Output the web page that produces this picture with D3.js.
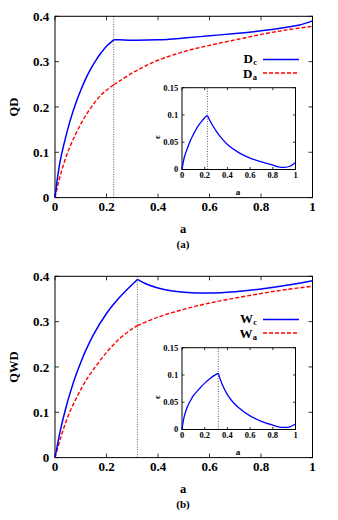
<!DOCTYPE html>
<html>
<head>
<meta charset="utf-8">
<script src="https://cdn.jsdelivr.net/npm/d3@7"></script>
<style>
  html, body { margin: 0; padding: 0; background: #fff; }
  svg { display: block; }
  text { font-family: "Liberation Serif", "DejaVu Serif", serif; font-weight: bold; fill: #000; }
</style>
</head>
<body>
<svg id="chart" width="338" height="520"></svg>
<script>
// ---- data ----
// panel (a): quantum discord
const aDc   = [0, 0.01, 0.02, 0.04, 0.06, 0.08, 0.1, 0.12, 0.14, 0.16, 0.18, 0.2, 0.228, 0.25, 0.3, 0.4, 0.5, 0.6, 0.7, 0.8, 0.9, 0.95, 1];
const valDc = [0, 0.045, 0.08, 0.13, 0.172, 0.207, 0.237, 0.263, 0.285, 0.304, 0.32, 0.334, 0.348, 0.348, 0.347, 0.348, 0.352, 0.357, 0.362, 0.368, 0.376, 0.381, 0.39];
const aDa   = [0, 0.01, 0.02, 0.04, 0.06, 0.08, 0.1, 0.12, 0.14, 0.16, 0.18, 0.2, 0.228, 0.25, 0.3, 0.35, 0.4, 0.5, 0.6, 0.7, 0.8, 0.9, 1];
const valDa = [0, 0.025, 0.048, 0.085, 0.115, 0.14, 0.162, 0.182, 0.199, 0.214, 0.227, 0.237, 0.249, 0.257, 0.275, 0.29, 0.303, 0.322, 0.336, 0.348, 0.36, 0.37, 0.378];
const aEpsA   = [0, 0.02, 0.04, 0.06, 0.08, 0.1, 0.12, 0.14, 0.16, 0.18, 0.2, 0.224, 0.25, 0.3, 0.35, 0.4, 0.5, 0.6, 0.7, 0.8, 0.85, 0.9, 0.95, 1];
const valEpsA = [0, 0.022, 0.035, 0.046, 0.056, 0.064, 0.072, 0.079, 0.085, 0.09, 0.095, 0.099, 0.088, 0.071, 0.057, 0.046, 0.031, 0.021, 0.014, 0.008, 0.005, 0.004, 0.006, 0.013];
const kinkA = 0.228;

// panel (b): quantum work deficit
const aWc   = [0, 0.02, 0.04, 0.06, 0.08, 0.1, 0.12, 0.15, 0.2, 0.25, 0.3, 0.32, 0.35, 0.4, 0.45, 0.5, 0.6, 0.7, 0.8, 0.9, 1];
const valWc = [0, 0.058, 0.105, 0.145, 0.18, 0.21, 0.237, 0.272, 0.318, 0.353, 0.382, 0.393, 0.384, 0.374, 0.368, 0.365, 0.363, 0.366, 0.372, 0.38, 0.39];
const aWa   = [0, 0.02, 0.04, 0.06, 0.08, 0.1, 0.12, 0.15, 0.2, 0.25, 0.3, 0.32, 0.4, 0.5, 0.6, 0.7, 0.8, 0.9, 1];
const valWa = [0, 0.04, 0.075, 0.104, 0.128, 0.15, 0.17, 0.195, 0.232, 0.262, 0.284, 0.291, 0.31, 0.327, 0.341, 0.352, 0.362, 0.371, 0.378];
const aEpsB   = [0, 0.02, 0.05, 0.08, 0.1, 0.15, 0.2, 0.25, 0.3, 0.32, 0.35, 0.4, 0.45, 0.5, 0.6, 0.7, 0.8, 0.85, 0.9, 0.95, 1];
const valEpsB = [0, 0.024, 0.043, 0.055, 0.062, 0.074, 0.085, 0.094, 0.101, 0.103, 0.085, 0.064, 0.05, 0.04, 0.025, 0.015, 0.008, 0.005, 0.004, 0.005, 0.01];
const kinkB = 0.32;

const xTicks = [0, 0.2, 0.4, 0.6, 0.8, 1];
const yTicks = [0, 0.1, 0.2, 0.3, 0.4];
const insetYTicks = [0, 0.05, 0.1, 0.15];

const svg = d3.select('#chart');

function zip(xs, ys) { return xs.map((x, i) => ({ x, y: ys[i] })); }

// draw a series as two smooth pieces joined at the kink (keeps the cusp sharp)
function drawSeries(g, x, y, pts, kink, style) {
  const line = d3.line().x(d => x(d.x)).y(d => y(d.y)).curve(d3.curveCatmullRom.alpha(0.5));
  const left = pts.filter(d => d.x <= kink + 1e-9);
  const right = pts.filter(d => d.x >= left[left.length - 1].x - 1e-9);
  [left, right].forEach(seg => {
    g.append('path').attr('d', line(seg))
      .attr('fill', 'none')
      .attr('stroke', style.color)
      .attr('stroke-width', style.width)
      .attr('stroke-linejoin', 'round')
      .attr('stroke-dasharray', style.dash || null);
  });
}

function frame(g, x, y, xt, yt, tickLen, fontSize, fmtY) {
  const [x0, x1] = x.range(), [y0, y1] = y.range();
  xt.forEach(t => {
    g.append('line').attr('x1', x(t)).attr('x2', x(t)).attr('y1', y0).attr('y2', y0 - tickLen).attr('stroke', '#000').attr('stroke-width', 0.8);
    g.append('line').attr('x1', x(t)).attr('x2', x(t)).attr('y1', y1).attr('y2', y1 + tickLen).attr('stroke', '#000').attr('stroke-width', 0.8);
    g.append('text').attr('x', x(t)).attr('y', y0 + fontSize * 1.05)
      .attr('text-anchor', 'middle').attr('font-size', fontSize).text(d3.format('~g')(t));
  });
  yt.forEach(t => {
    g.append('line').attr('x1', x0).attr('x2', x0 + tickLen).attr('y1', y(t)).attr('y2', y(t)).attr('stroke', '#000').attr('stroke-width', 0.8);
    g.append('line').attr('x1', x1).attr('x2', x1 - tickLen).attr('y1', y(t)).attr('y2', y(t)).attr('stroke', '#000').attr('stroke-width', 0.8);
    g.append('text').attr('x', x0 - fontSize * 0.45).attr('y', y(t)).attr('dy', '0.35em')
      .attr('text-anchor', 'end').attr('font-size', fontSize).text(fmtY(t));
  });
  g.append('rect').attr('x', x0).attr('y', y1).attr('width', x1 - x0).attr('height', y0 - y1)
    .attr('fill', 'none').attr('stroke', '#000').attr('stroke-width', 1);
}

function kinkLine(g, x, y, k) {
  g.append('line').attr('x1', x(k)).attr('x2', x(k)).attr('y1', y.range()[0]).attr('y2', y.range()[1])
    .attr('stroke', '#333').attr('stroke-width', 0.8).attr('stroke-dasharray', '1,1.5');
}

function panel(cfg) {
  const g = svg.append('g').attr('transform', `translate(0,${cfg.top})`);
  const x = d3.scaleLinear().domain([0, 1]).range([55, 312.5]);
  const y = d3.scaleLinear().domain([0, 0.4]).range([197.6, 16.3]);

  kinkLine(g, x, y, cfg.kink);
  frame(g, x, y, xTicks, yTicks, 4, 13, d3.format('~g'));

  drawSeries(g, x, y, zip(cfg.aA, cfg.vA), cfg.kink, { color: '#ff0000', width: 1.4, dash: '4,2' });
  drawSeries(g, x, y, zip(cfg.aC, cfg.vC), cfg.kink, { color: '#0000ff', width: 1.5 });

  // axis labels
  g.append('text').attr('transform', 'translate(14,107) rotate(-90)').attr('dy', '0.35em')
    .attr('text-anchor', 'middle').attr('font-size', 12.5).text(cfg.ylabel);
  g.append('text').attr('x', 183).attr('y', 233).attr('text-anchor', 'middle').attr('font-size', 12.5).text('a');
  g.append('text').attr('x', 183).attr('y', 248).attr('text-anchor', 'middle').attr('font-size', 11).text(cfg.tag);

  // legend
  const legend = [
    { sub: cfg.subC, color: '#0000ff', dash: null, y: 59.5, base: 63 },
    { sub: cfg.subA, color: '#ff0000', dash: '4,2', y: 73, base: 77.5 }
  ];
  legend.forEach(d => {
    const t = g.append('text').attr('x', 257).attr('y', d.base).attr('text-anchor', 'end').attr('font-size', 13);
    t.append('tspan').text(cfg.sym);
    t.append('tspan').attr('font-size', 8.5).attr('dx', 0.3).attr('dy', 2).text(d.sub);
    g.append('line').attr('x1', 263).attr('x2', 299).attr('y1', d.y).attr('y2', d.y)
      .attr('stroke', d.color).attr('stroke-width', 1.4).attr('stroke-dasharray', d.dash);
  });

  // inset
  const xi = d3.scaleLinear().domain([0, 1]).range([182, 295.5]);
  const yi = d3.scaleLinear().domain([0, 0.15]).range([169.5, 87.7]);
  g.append('rect').attr('x', 182).attr('y', 87.7).attr('width', 113.5).attr('height', 81.8).attr('fill', '#fff');
  kinkLine(g, xi, yi, cfg.kinkInset);
  frame(g, xi, yi, xTicks, insetYTicks, 2.5, 8.5, d3.format('~g'));
  drawSeries(g, xi, yi, zip(cfg.aE, cfg.vE), cfg.kinkInset, { color: '#0000ff', width: 1.3 });
  g.append('text').attr('x', 238).attr('y', 195).attr('text-anchor', 'middle').attr('font-size', 9).text('a');
  g.append('text').attr('transform', 'translate(157,137) rotate(-90)').attr('dy', '0.35em')
    .attr('text-anchor', 'middle').attr('font-size', 9).attr('font-weight', 'normal').text('ε');
}

panel({ top: 0, kink: kinkA, kinkInset: 0.224, ylabel: 'QD', tag: '(a)', sym: 'D', subC: 'c', subA: 'a',
        aC: aDc, vC: valDc, aA: aDa, vA: valDa, aE: aEpsA, vE: valEpsA });
panel({ top: 260, kink: kinkB, kinkInset: kinkB, ylabel: 'QWD', tag: '(b)', sym: 'W', subC: 'c', subA: 'a',
        aC: aWc, vC: valWc, aA: aWa, vA: valWa, aE: aEpsB, vE: valEpsB });
</script>
</body>
</html>
